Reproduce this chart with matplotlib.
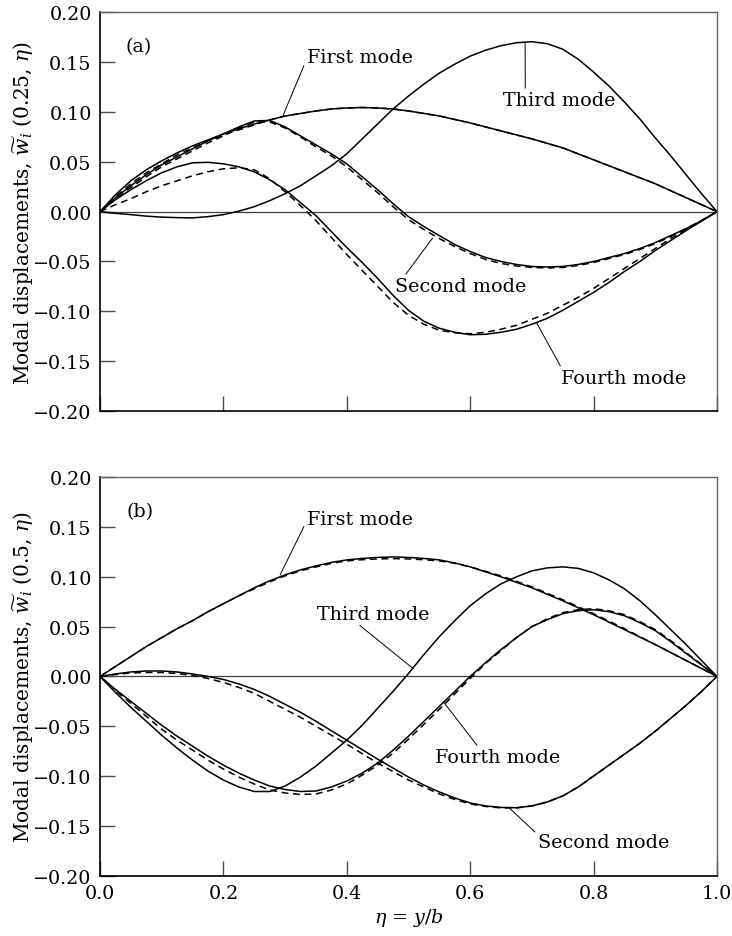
import matplotlib
matplotlib.use("Agg")
import matplotlib.pyplot as plt

plt.rcParams['font.family'] = ['DejaVu Serif']
plt.rcParams['mathtext.fontset'] = 'dejavuserif'

# spanwise coordinate eta = y/b, every 0.025
eta = [i / 40 for i in range(41)]

# (a) x = 0.25 ; solid and dashed curves
first_a = [0, 0.017, 0.031, 0.042, 0.051, 0.059, 0.066, 0.072, 0.078, 0.083, 0.088,
           0.092, 0.096, 0.0985, 0.101, 0.103, 0.104, 0.1045, 0.104, 0.103, 0.101,
           0.0985, 0.096, 0.0925, 0.089, 0.085, 0.081, 0.077, 0.073, 0.0685, 0.064,
           0.058, 0.052, 0.046, 0.040, 0.034, 0.028, 0.021, 0.014, 0.007, 0]
first_a_d = [0, 0.015, 0.028, 0.039, 0.048, 0.057, 0.064, 0.071, 0.077, 0.082, 0.087,
             0.092, 0.096, 0.0985, 0.101, 0.103, 0.104, 0.1045, 0.104, 0.103, 0.101,
             0.0985, 0.096, 0.0925, 0.089, 0.085, 0.081, 0.077, 0.073, 0.0685, 0.064,
             0.058, 0.052, 0.046, 0.040, 0.034, 0.028, 0.021, 0.014, 0.007, 0]
second_a = [0, 0.014, 0.026, 0.037, 0.047, 0.055, 0.063, 0.071, 0.078, 0.085, 0.091,
            0.0915, 0.085, 0.076, 0.067, 0.058, 0.048, 0.035, 0.022, 0.008, -0.005,
            -0.015, -0.024, -0.033, -0.040, -0.046, -0.050, -0.053, -0.055, -0.0555, -0.055,
            -0.053, -0.050, -0.046, -0.042, -0.037, -0.031, -0.024, -0.017, -0.009, 0]
second_a_d = [0, 0.013, 0.024, 0.035, 0.045, 0.053, 0.061, 0.069, 0.076, 0.084, 0.090,
              0.090, 0.084, 0.075, 0.065, 0.056, 0.045, 0.032, 0.019, 0.005, -0.008,
              -0.018, -0.027, -0.035, -0.042, -0.048, -0.052, -0.0545, -0.056, -0.0565, -0.056,
              -0.054, -0.051, -0.047, -0.043, -0.038, -0.032, -0.025, -0.017, -0.009, 0]
third_a = [0, -0.0017, -0.003, -0.0045, -0.0055, -0.006, -0.0063, -0.005, -0.003, 0.0005, 0.005,
           0.011, 0.018, 0.026, 0.036, 0.046, 0.058, 0.073, 0.088, 0.103, 0.116,
           0.128, 0.139, 0.148, 0.156, 0.162, 0.1665, 0.1695, 0.1705, 0.1685, 0.163,
           0.153, 0.140, 0.126, 0.110, 0.093, 0.074, 0.056, 0.037, 0.018, 0]
fourth_a = [0, 0.012, 0.022, 0.031, 0.039, 0.045, 0.049, 0.0495, 0.048, 0.045, 0.040,
            0.032, 0.022, 0.009, -0.004, -0.020, -0.036, -0.051, -0.067, -0.084, -0.099,
            -0.110, -0.117, -0.121, -0.1235, -0.123, -0.121, -0.118, -0.113, -0.107, -0.099,
            -0.090, -0.081, -0.071, -0.060, -0.050, -0.039, -0.029, -0.019, -0.0095, 0]
fourth_a_d = [0, 0.007, 0.013, 0.020, 0.026, 0.031, 0.036, 0.040, 0.043, 0.044, 0.042,
              0.033, 0.020, 0.006, -0.009, -0.026, -0.043, -0.059, -0.075, -0.091, -0.104,
              -0.113, -0.119, -0.1215, -0.1225, -0.121, -0.118, -0.114, -0.108, -0.102, -0.094,
              -0.086, -0.077, -0.067, -0.057, -0.047, -0.037, -0.027, -0.018, -0.009, 0]

# (b) x = 0.5
first_b = [0, 0.010, 0.020, 0.030, 0.039, 0.048, 0.056, 0.065, 0.073, 0.081, 0.089,
           0.096, 0.102, 0.107, 0.111, 0.1145, 0.117, 0.1185, 0.1195, 0.120, 0.1195,
           0.1185, 0.117, 0.114, 0.110, 0.105, 0.100, 0.0945, 0.089, 0.0825, 0.076,
           0.069, 0.062, 0.0545, 0.047, 0.0395, 0.032, 0.024, 0.016, 0.008, 0]
first_b_d = [0, 0.010, 0.020, 0.030, 0.039, 0.048, 0.056, 0.065, 0.073, 0.081, 0.088,
             0.095, 0.101, 0.106, 0.110, 0.1135, 0.116, 0.1172, 0.118, 0.1183, 0.118,
             0.1172, 0.116, 0.1135, 0.110, 0.1055, 0.101, 0.0955, 0.090, 0.0835, 0.077,
             0.070, 0.063, 0.0555, 0.048, 0.040, 0.032, 0.024, 0.016, 0.008, 0]
second_b = [0, 0.0025, 0.0045, 0.0055, 0.0055, 0.0045, 0.0025, 0.000, -0.003, -0.0075, -0.013,
            -0.020, -0.028, -0.036, -0.045, -0.0545, -0.064, -0.0735, -0.083, -0.092, -0.101,
            -0.109, -0.116, -0.122, -0.127, -0.130, -0.1315, -0.1318, -0.130, -0.126, -0.120,
            -0.111, -0.100, -0.089, -0.078, -0.067, -0.055, -0.042, -0.029, -0.015, 0]
second_b_d = [0, 0.002, 0.0035, 0.004, 0.004, 0.003, 0.001, -0.002, -0.006, -0.011, -0.017,
              -0.025, -0.033, -0.041, -0.050, -0.059, -0.068, -0.0775, -0.087, -0.0955, -0.104,
              -0.111, -0.118, -0.1235, -0.128, -0.1305, -0.132, -0.132, -0.130, -0.126, -0.120,
              -0.111, -0.100, -0.089, -0.078, -0.067, -0.055, -0.042, -0.029, -0.015, 0]
third_b = [0, -0.016, -0.031, -0.045, -0.059, -0.072, -0.084, -0.095, -0.104, -0.111, -0.1155,
           -0.1155, -0.110, -0.101, -0.090, -0.077, -0.064, -0.049, -0.032, -0.015, 0.003,
           0.022, 0.040, 0.056, 0.071, 0.083, 0.093, 0.100, 0.106, 0.109, 0.110,
           0.1085, 0.104, 0.097, 0.088, 0.076, 0.062, 0.047, 0.032, 0.016, 0]
fourth_b = [0, -0.013, -0.025, -0.037, -0.049, -0.060, -0.070, -0.080, -0.089, -0.097, -0.104,
            -0.110, -0.1135, -0.1155, -0.115, -0.111, -0.105, -0.097, -0.087, -0.074, -0.060,
            -0.045, -0.030, -0.015, 0.000, 0.014, 0.027, 0.039, 0.050, 0.057, 0.063,
            0.066, 0.067, 0.065, 0.061, 0.054, 0.046, 0.035, 0.023, 0.0115, 0]
fourth_b_d = [0, -0.014, -0.027, -0.040, -0.053, -0.064, -0.074, -0.084, -0.093, -0.101, -0.108,
              -0.114, -0.117, -0.1185, -0.118, -0.114, -0.108, -0.099, -0.089, -0.077, -0.063,
              -0.048, -0.033, -0.0175, -0.002, 0.013, 0.026, 0.039, 0.050, 0.058, 0.064,
              0.067, 0.068, 0.066, 0.062, 0.055, 0.047, 0.036, 0.024, 0.012, 0]

yticks = [-0.20, -0.15, -0.10, -0.05, 0.00, 0.05, 0.10, 0.15, 0.20]
ytick_labels = ['\u22120.20', '\u22120.15', '\u22120.10', '\u22120.05', '0.00',
                '0.05', '0.10', '0.15', '0.20']
xticks = [0.0, 0.2, 0.4, 0.6, 0.8, 1.0]
xtick_labels = ['0.0', '0.2', '0.4', '0.6', '0.8', '1.0']

fig = plt.figure(figsize=(7.32, 9.37), dpi=100)
ax1 = fig.add_axes([0.1366, 0.5603, 0.8429, 0.4255])
ax2 = fig.add_axes([0.1366, 0.0644, 0.8429, 0.4252])

LW = 1.1
dash = (0, (4.5, 3))
fs = 13.8
lead = dict(arrowstyle='-', color='black', lw=0.7, shrinkA=0, shrinkB=0)


def setup(ax, label):
    ax.set_xlim(0, 1)
    ax.set_ylim(-0.2, 0.2)
    ax.axhline(0, color='0.25', lw=0.9, zorder=1)
    ax.set_yticks(yticks)
    ax.set_yticklabels(ytick_labels, fontsize=fs)
    ax.set_xticks(xticks)
    ax.tick_params(direction='in', length=11, width=1, pad=6, color='0.3')
    ax.set_ylabel(label, fontsize=14.5)
    ax.yaxis.set_label_coords(-0.104, 0.5)
    for s in ['left', 'bottom']:
        ax.spines[s].set_color('black')
        ax.spines[s].set_linewidth(1.2)
    for s in ['top', 'right']:
        ax.spines[s].set_color('0.4')
        ax.spines[s].set_linewidth(1.0)


# (a)
setup(ax1, r'Modal displacements, $\widetilde{w}_i$ (0.25, $\eta$)')
for ys in [first_a, second_a, third_a, fourth_a]:
    ax1.plot(eta, ys, color='black', lw=LW)
for ys in [first_a_d, second_a_d, fourth_a_d]:
    ax1.plot(eta, ys, color='black', lw=LW, linestyle=dash)
ax1.set_xticklabels([])
ax1.text(0.063, 0.166, '(a)', fontsize=fs, ha='center', va='center')
ax1.annotate('First mode', xy=(0.297, 0.097), xytext=(0.335, 0.155), fontsize=fs,
             ha='left', va='center', arrowprops=dict(lead, relpos=(0.0, 0.4)))
ax1.annotate('Third mode', xy=(0.689, 0.170), xytext=(0.744, 0.112), fontsize=fs,
             ha='center', va='center', arrowprops=dict(lead, relpos=(0.2, 1.0)))
ax1.annotate('Second mode', xy=(0.539, -0.0265), xytext=(0.584, -0.0745), fontsize=fs,
             ha='center', va='center', arrowprops=dict(lead, relpos=(0.07, 1.0)))
ax1.annotate('Fourth mode', xy=(0.708, -0.112), xytext=(0.848, -0.1665), fontsize=fs,
             ha='center', va='center', arrowprops=dict(lead, relpos=(0.01, 1.0)))

# (b)
setup(ax2, r'Modal displacements, $\widetilde{w}_i$ (0.5, $\eta$)')
for ys in [first_b, second_b, third_b, fourth_b]:
    ax2.plot(eta, ys, color='black', lw=LW)
for ys in [first_b_d, second_b_d, fourth_b_d]:
    ax2.plot(eta, ys, color='black', lw=LW, linestyle=dash)
ax2.set_xticklabels(xtick_labels, fontsize=fs)
ax2.set_xlabel(r'$\eta$ = $y/b$', fontsize=fs, labelpad=3)
ax2.text(0.065, 0.166, '(b)', fontsize=fs, ha='center', va='center')
ax2.annotate('First mode', xy=(0.292, 0.102), xytext=(0.335, 0.158), fontsize=fs,
             ha='left', va='center', arrowprops=dict(lead, relpos=(0.0, 0.4)))
ax2.annotate('Third mode', xy=(0.508, 0.0077), xytext=(0.443, 0.063), fontsize=fs,
             ha='center', va='center', arrowprops=dict(lead, relpos=(0.35, 0.0)))
ax2.annotate('Fourth mode', xy=(0.557, -0.0258), xytext=(0.645, -0.081), fontsize=fs,
             ha='center', va='center', arrowprops=dict(lead, relpos=(0.35, 1.0)))
ax2.annotate('Second mode', xy=(0.665, -0.133), xytext=(0.816, -0.166), fontsize=fs,
             ha='center', va='center', arrowprops=dict(lead, relpos=(0.0, 0.9)))

fig.savefig('out.png', dpi=100)
